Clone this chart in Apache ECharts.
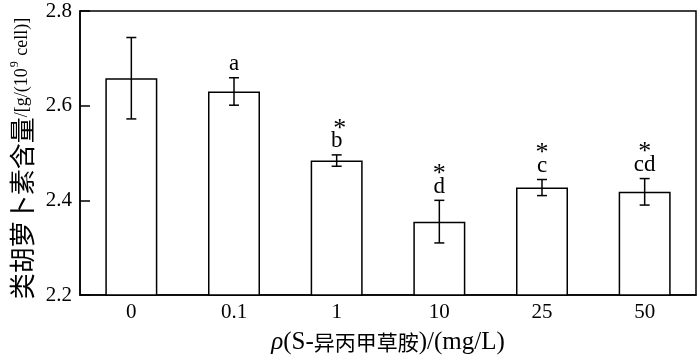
<!DOCTYPE html>
<html>
<head>
<meta charset="utf-8">
<script src="https://cdn.jsdelivr.net/npm/echarts@6/dist/echarts.min.js"></script>
<style>html,body{margin:0;padding:0;background:#fff;}#c{width:700px;height:355px;}</style>
</head>
<body>
<div id="c"></div>
<script>
var categories = ['0', '0.1', '1', '10', '25', '50'];
var means = [2.658, 2.630, 2.484, 2.355, 2.427, 2.418];
var errors = [0.086, 0.029, 0.012, 0.045, 0.017, 0.028];
var letters = ['', 'a', 'b', 'd', 'c', 'cd'];
var stars = ['', '', '*', '*', '*', '*'];
var yTicks = [2.2, 2.4, 2.6, 2.8];

var serif = '"Liberation Serif", "DejaVu Serif", serif';
var cjk = '"Noto Sans CJK SC", sans-serif';

var chart = echarts.init(document.getElementById('c'));

var errData = categories.map(function (c, i) {
  return [i, means[i] - errors[i], means[i] + errors[i], i];
});

chart.setOption({
  animation: false,
  grid: {
    left: 80, right: 4, top: 11, bottom: 60,
    containLabel: false,
    outerBoundsMode: 'none',
    show: true, borderColor: '#000', borderWidth: 1.5, backgroundColor: 'transparent'
  },
  xAxis: {
    type: 'category',
    data: categories,
    axisLine: { lineStyle: { color: '#000', width: 1.5 } },
    axisTick: { inside: true, length: 9, lineStyle: { color: '#000', width: 1.5 } },
    axisLabel: { color: '#000', fontFamily: serif, fontSize: 21, margin: 7 },
    name: '{i|ρ}{l|(S-}{z|异丙甲草胺}{l|)/(mg/L)}',
    nameLocation: 'middle',
    nameGap: 35,
    nameTextStyle: {
      rich: {
        i: { fontFamily: serif, fontStyle: 'italic', fontSize: 25, color: '#000' },
        l: { fontFamily: serif, fontSize: 25, color: '#000' },
        z: { fontFamily: cjk, fontSize: 21, color: '#000' }
      }
    }
  },
  yAxis: {
    type: 'value',
    min: 2.2, max: 2.8, interval: 0.2,
    axisLine: { show: true, lineStyle: { color: '#000', width: 1.5 } },
    axisTick: { show: true, inside: true, length: 10, lineStyle: { color: '#000', width: 1.5 } },
    splitLine: { show: false },
    axisLabel: {
      color: '#000', fontFamily: serif, fontSize: 21, margin: 8,
      formatter: function (v) {
        for (var k = 0; k < yTicks.length; k++) {
          if (Math.abs(yTicks[k] - v) < 1e-6) return yTicks[k].toFixed(1);
        }
        return '';
      }
    },
    name: '{z|类胡萝卜素含量}{l|/[g/(10}{s|9}{l| cell)]}',
    nameLocation: 'middle',
    nameGap: 41,
    nameTextStyle: {
      padding: [0, 11, 0, 0],
      rich: {
        z: { fontFamily: cjk, fontSize: 26, color: '#000' },
        l: { fontFamily: serif, fontSize: 18, color: '#000' },
        s: { fontFamily: serif, fontSize: 12, color: '#000', verticalAlign: 'top', padding: [0, 1, 0, 1] }
      }
    }
  },
  series: [
    {
      type: 'bar',
      data: means,
      barWidth: 52,
      itemStyle: { color: '#fff', borderColor: '#000', borderWidth: 1.5 },
      z: 2
    },
    {
      type: 'custom',
      data: errData,
      z: 3,
      renderItem: function (params, api) {
        var i = api.value(3);
        var lo = api.coord([api.value(0), api.value(1)]);
        var hi = api.coord([api.value(0), api.value(2)]);
        var x = lo[0];
        var cap = 5;
        var ls = { stroke: '#000', lineWidth: 1.5 };
        var children = [
          { type: 'line', shape: { x1: x, y1: lo[1], x2: x, y2: hi[1] }, style: ls },
          { type: 'line', shape: { x1: x - cap, y1: lo[1], x2: x + cap, y2: lo[1] }, style: ls },
          { type: 'line', shape: { x1: x - cap, y1: hi[1], x2: x + cap, y2: hi[1] }, style: ls }
        ];
        if (letters[i]) {
          children.push({
            type: 'text',
            style: {
              text: letters[i], x: x, y: hi[1] - 2,
              fill: '#000', font: '23px ' + serif,
              textAlign: 'center', textVerticalAlign: 'bottom'
            }
          });
        }
        if (stars[i]) {
          children.push({
            type: 'text',
            style: {
              text: stars[i], x: x + (letters[i] === 'b' ? 3 : 0), y: hi[1] - 13,
              fill: '#000', font: '26px ' + serif,
              textAlign: 'center', textVerticalAlign: 'bottom'
            }
          });
        }
        return { type: 'group', children: children };
      }
    }
  ]
});
</script>
</body>
</html>
